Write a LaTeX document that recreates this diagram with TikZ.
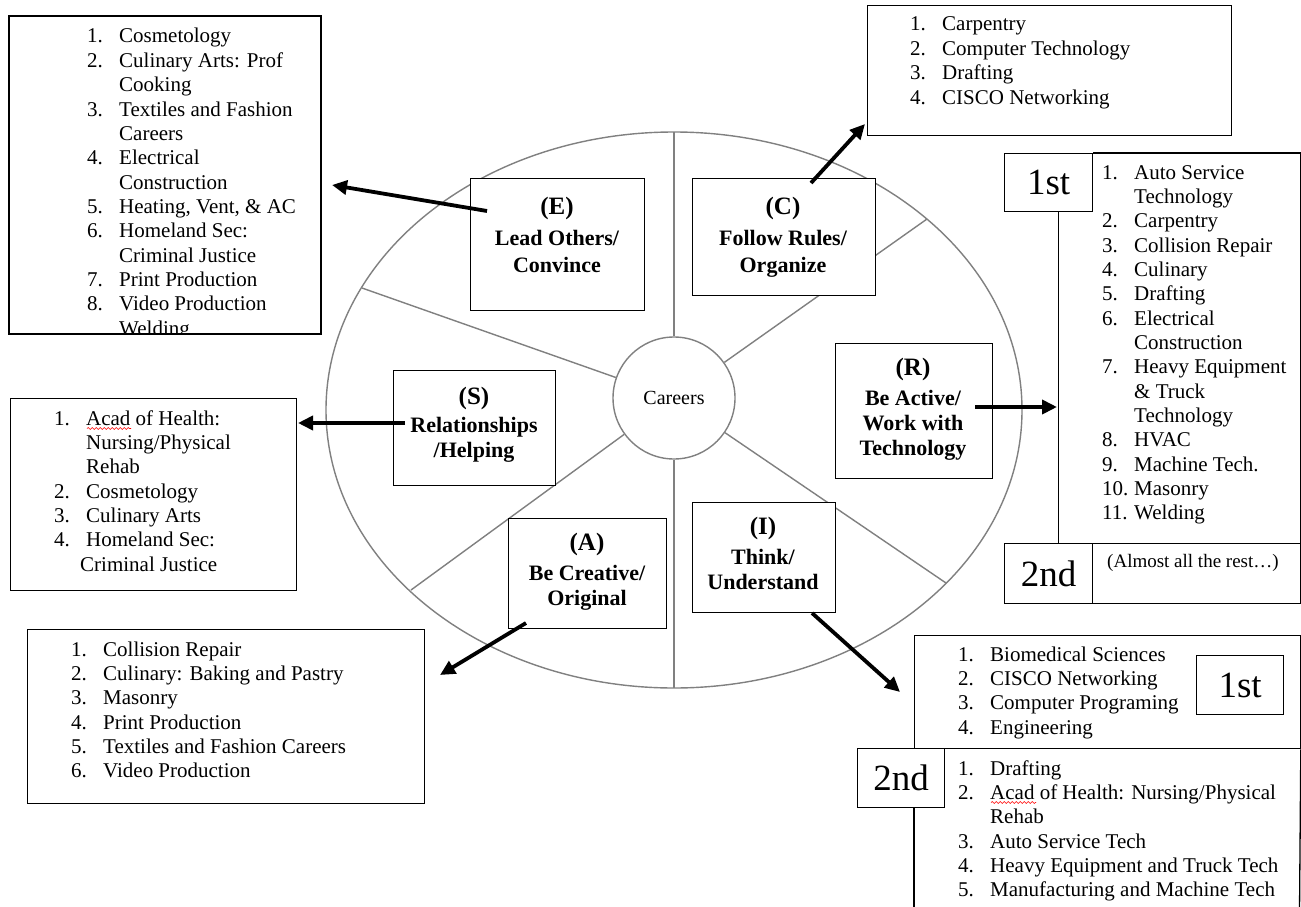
\documentclass[tikz,border=0pt]{standalone}
\usepackage{fontspec}
\setmainfont{Liberation Serif}
\usetikzlibrary{arrows.meta,decorations.pathmorphing}
\tikzset{
  box/.style={draw=black, fill=white, line width=1.3pt, inner sep=0pt, anchor=north west},
  boxline/.style={draw=black, line width=1.3pt},
  spoke/.style={draw=black!50, line width=1.4pt},
  arr/.style={line width=3.8pt, -{Triangle[length=15pt,width=14pt]}},
  lst/.style={anchor=base west, inner sep=0pt, font=\fontsize{21}{24.35}\selectfont},
  cat/.style={anchor=base, inner sep=0pt, font=\fontsize{22}{26}\selectfont\bfseries},
  big/.style={anchor=base, inner sep=0pt, font=\fontsize{25}{28}\selectfont\bfseries},
  ordbox/.style={box, font=\fontsize{37}{40}\selectfont},
  squig/.style={draw=red, line width=0.6pt, decorate, decoration={snake, segment length=4pt, amplitude=0.9pt}},
}
\newcommand\nm[1]{\makebox[32pt][l]{#1}}
\begin{document}
\begin{tikzpicture}[x=1pt,y=-1pt]
\useasboundingbox (0,0) rectangle (1301,907);
\fill[white] (0,0) rectangle (1301,907);

% wheel
\draw[spoke] (674,410) ellipse [x radius=348pt, y radius=278pt];
\node[circle, draw=black!50, line width=1.4pt, fill=white, minimum size=122pt, inner sep=0pt,
      font=\fontsize{20}{22}\selectfont] (ctr) at (674,398) {Careers};
\coordinate (sp1) at (674,132);
\coordinate (sp2) at (927,219);
\coordinate (sp3) at (946,583);
\coordinate (sp4) at (674,688);
\coordinate (sp5) at (411,590);
\coordinate (sp6) at (362,288);
\foreach \p in {sp1,sp2,sp3,sp4,sp5,sp6} \draw[spoke] (ctr) -- (\p);

% category boxes
\node[box, minimum width=174pt, minimum height=132pt] (Ebox) at (470,178) {};
\node[big] (Et1) at (557,214) {(E)};
\node[cat] (Et2) at (557,245) {Lead Others/};
\node[cat] (Et3) at (557,272) {Convince};

\node[box, minimum width=183pt, minimum height=117pt] (Cbox) at (692,178) {};
\node[big] (Ct1) at (783,214) {(C)};
\node[cat] (Ct2) at (783,245) {Follow Rules/};
\node[cat] (Ct3) at (783,272) {Organize};

\node[box, minimum width=162pt, minimum height=115pt] (Sbox) at (393,370) {};
\node[big] (St1) at (474,404) {(S)};
\node[cat] (St2) at (474,432) {Relationships};
\node[cat] (St3) at (474,457) {/Helping};

\node[box, minimum width=157pt, minimum height=135pt] (Rbox) at (835,343) {};
\node[big] (Rt1) at (913,375) {(R)};
\node[cat] (Rt2) at (913,405) {Be Active/};
\node[cat] (Rt3) at (913,430) {Work with};
\node[cat] (Rt4) at (913,455) {Technology};

\node[box, minimum width=158pt, minimum height=110pt] (Abox) at (508,518) {};
\node[big] (At1) at (587,550) {(A)};
\node[cat] (At2) at (587,580) {Be Creative/};
\node[cat] (At3) at (587,605) {Original};

\node[box, minimum width=143pt, minimum height=110pt] (Ibox) at (692,502) {};
\node[big] (It1) at (763,534) {(I)};
\node[cat] (It2) at (763,564) {Think/};
\node[cat] (It3) at (763,589) {Understand};

% E list
\node[box, minimum width=311pt, minimum height=317pt] (Elist) at (9,16) {};
\begin{scope}
\clip (Elist.north west) rectangle (Elist.south east);
\node[lst] (Elt) at (87,43) {\begin{tabular}[t]{@{}l@{}}
\nm{1.}Cosmetology\\
\nm{2.}Culinary Arts: Prof\\
\nm{}Cooking\\
\nm{3.}Textiles and Fashion\\
\nm{}Careers\\
\nm{4.}Electrical\\
\nm{}Construction\\
\nm{5.}Heating, Vent, \& AC\\
\nm{6.}Homeland Sec:\\
\nm{}Criminal Justice\\
\nm{7.}Print Production\\
\nm{8.}Video Production\\
\nm{}Welding
\end{tabular}};
\end{scope}
\draw[boxline] (Elist.north west) rectangle (Elist.south east);

% C list
\node[box, minimum width=364pt, minimum height=130pt] (Clist) at (867,5) {};
\node[lst] (Clt) at (910,31) {\begin{tabular}[t]{@{}l@{}}
\nm{1.}Carpentry\\
\nm{2.}Computer Technology\\
\nm{3.}Drafting\\
\nm{4.}CISCO Networking
\end{tabular}};

% R list
\node[ordbox, minimum width=88pt, minimum height=58pt] (R1st) at (1004,153) {1st};
\node[ordbox, minimum width=88pt, minimum height=60pt] (R2nd) at (1004,543) {2nd};
\node[box, minimum width=207.5pt, minimum height=60pt] (Rrest) at (1092,543) {};
\node[anchor=west, inner sep=0pt, font=\fontsize{19}{22}\selectfont] (Rrestt) at (1107,563) {(Almost all the rest…)};
\draw[boxline] (R1st.north east) -- (Rrest.north east |- R1st.north) -- (Rrest.north east);
\draw[boxline] ([xshift=10pt]R1st.south) -- ([xshift=10pt]R2nd.north);
\node[lst] (Rlt) at (1102,179) {\begin{tabular}[t]{@{}l@{}}
\nm{1.}Auto Service\\
\nm{}Technology\\
\nm{2.}Carpentry\\
\nm{3.}Collision Repair\\
\nm{4.}Culinary\\
\nm{5.}Drafting\\
\nm{6.}Electrical\\
\nm{}Construction\\
\nm{7.}Heavy Equipment\\
\nm{}\& Truck\\
\nm{}Technology\\
\nm{8.}HVAC\\
\nm{9.}Machine Tech.\\
\nm{10.}Masonry\\
\nm{11.}Welding
\end{tabular}};

% S list
\node[box, minimum width=286pt, minimum height=192pt] (Slist) at (10,398) {};
\node[lst] (Slt) at (54,425) {\begin{tabular}[t]{@{}l@{}}
\nm{1.}Acad of Health:\\
\nm{}Nursing/Physical\\
\nm{}Rehab\\
\nm{2.}Cosmetology\\
\nm{3.}Culinary Arts\\
\nm{4.}Homeland Sec:\\
\nm{}\hspace{-6pt}Criminal Justice
\end{tabular}};
\draw[squig] (87,428.5) -- (131,428.5);

% A list
\node[box, minimum width=397pt, minimum height=174pt] (Alist) at (27,629) {};
\node[lst] (Alt) at (71,656) {\begin{tabular}[t]{@{}l@{}}
\nm{1.}Collision Repair\\
\nm{2.}Culinary: Baking and Pastry\\
\nm{3.}Masonry\\
\nm{4.}Print Production\\
\nm{5.}Textiles and Fashion Careers\\
\nm{6.}Video Production
\end{tabular}};

% I list
\node[box, minimum width=385.5pt, minimum height=113pt] (Ilist) at (914,635) {};
\node[ordbox, minimum width=87pt, minimum height=59pt] (I1st) at (1196,655) {1st};
\node[ordbox, minimum width=87pt, minimum height=59pt] (I2nd) at (857,748) {2nd};
\coordinate (IL) at (914,912);
\coordinate (IR) at (1299.5,912);
\draw[boxline] (I2nd.south -| IL) -- (IL);
\draw[boxline] (Ilist.south east) -- (IR);
\node[lst] (I1t) at (958,661) {\begin{tabular}[t]{@{}l@{}}
\nm{1.}Biomedical Sciences\\
\nm{2.}CISCO Networking\\
\nm{3.}Computer Programing\\
\nm{4.}Engineering
\end{tabular}};
\node[lst] (I2t) at (958,775) {\begin{tabular}[t]{@{}l@{}}
\nm{1.}Drafting\\
\nm{2.}Acad of Health: Nursing/Physical\\
\nm{}Rehab\\
\nm{3.}Auto Service Tech\\
\nm{4.}Heavy Equipment and Truck Tech\\
\nm{5.}Manufacturing and Machine Tech
\end{tabular}};
\draw[squig] (991,802.5) -- (1036,802.5);

% arrows
\coordinate (aE1) at (487,211); \coordinate (aE2) at (332,185);
\coordinate (aC1) at (811,183); \coordinate (aC2) at (865,124);
\coordinate (aS1) at (405,423); \coordinate (aS2) at (298,423);
\coordinate (aR1) at (975,407); \coordinate (aR2) at (1057,407);
\coordinate (aA1) at (526,623); \coordinate (aA2) at (440,675);
\coordinate (aI1) at (812,613); \coordinate (aI2) at (900,692);
\draw[arr] (aE1) -- (aE2);
\draw[arr] (aC1) -- (aC2);
\draw[arr] (aS1) -- (aS2);
\draw[arr] (aR1) -- (aR2);
\draw[arr] (aA1) -- (aA2);
\draw[arr] (aI1) -- (aI2);
\end{tikzpicture}
\end{document}
